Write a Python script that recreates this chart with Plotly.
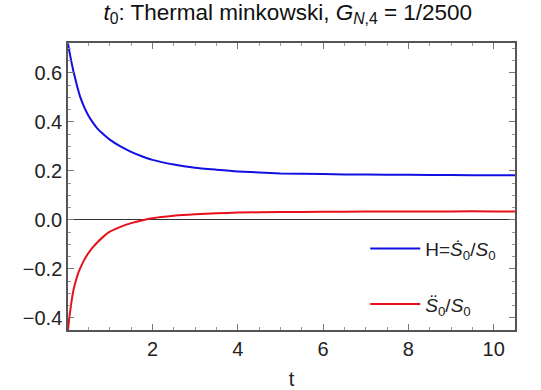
import plotly.graph_objects as go

# --- data ---
t_blue = [0.02, 0.05, 0.1, 0.15, 0.2, 0.25, 0.3, 0.4, 0.5, 0.6, 0.7, 0.85, 1.0, 1.25,
          1.5, 1.75, 2.0, 2.5, 3.0, 3.5, 4.0, 5.0, 6.0, 7.0, 8.0, 9.0, 10.0, 10.5]
H_vals = [0.72, 0.69, 0.645, 0.605, 0.57, 0.535, 0.505, 0.46, 0.425, 0.398, 0.375, 0.35,
          0.328, 0.30, 0.278, 0.26, 0.245, 0.226, 0.213, 0.205, 0.198, 0.190, 0.187,
          0.185, 0.184, 0.183, 0.182, 0.182]

t_red = [0.02, 0.05, 0.1, 0.15, 0.2, 0.25, 0.3, 0.4, 0.5, 0.6, 0.7, 0.85, 1.0, 1.25,
         1.5, 1.75, 2.0, 2.5, 3.0, 3.5, 4.0, 5.0, 6.0, 7.0, 8.0, 9.0, 10.0, 10.5]
Sdd_vals = [-0.45, -0.40, -0.335, -0.285, -0.25, -0.222, -0.20, -0.163, -0.135, -0.112,
            -0.093, -0.068, -0.048, -0.028, -0.013, -0.002, 0.007, 0.017, 0.023, 0.027,
            0.030, 0.032, 0.033, 0.034, 0.034, 0.035, 0.035, 0.035]

x_ticks = [2, 4, 6, 8, 10]
y_ticks = [-0.4, -0.2, 0.0, 0.2, 0.4, 0.6]
y_ticklabels = ["\u22120.4", "\u22120.2", "0.0", "0.2", "0.4", "0.6"]

name_H = "H=<i>\u1E60</i><sub>0</sub>/<i>S</i><sub>0</sub>"
name_S = "<i>S\u0308</i><sub>0</sub>/<i>S</i><sub>0</sub>"
title = "<i>t</i><sub>0</sub>: Thermal minkowski, <i>G</i><sub><i>N</i>,4</sub> = 1/2500"

FONT = "Liberation Sans, Arial, sans-serif"

fig = go.Figure()
fig.add_trace(go.Scatter(x=t_blue, y=H_vals, mode="lines", name=name_H,
                         line=dict(color="#1010e0", width=2, shape="spline", smoothing=0.5),
                         legendgroup="a"))
fig.add_trace(go.Scatter(x=t_red, y=Sdd_vals, mode="lines", name=name_S,
                         line=dict(color="#e8101a", width=2, shape="spline", smoothing=0.5),
                         legendgroup="b"))

axis_common = dict(
    showgrid=False, showline=True, linecolor="#555555", linewidth=1.5, mirror="ticks",
    ticks="inside", ticklen=6, tickcolor="#777777", tickwidth=1, automargin=False,
    tickfont=dict(family=FONT, size=20, color="#222222"),
)

fig.update_layout(
    width=541, height=390,
    margin=dict(l=68, r=26, t=43, b=60),
    paper_bgcolor="white", plot_bgcolor="white",
    font=dict(family=FONT, color="#222222"),
    title=dict(text=title, x=0.532, xanchor="center", y=0.99, yanchor="top",
               font=dict(family=FONT, size=22.5, color="#111111"), automargin=False),
    xaxis=dict(range=[0.02, 10.5], tickvals=x_ticks, zeroline=False,
               minor=dict(dtick=0.5, ticks="inside", ticklen=3, tickcolor="#999999"),
               title=dict(text="t", font=dict(family=FONT, size=20), standoff=14),
               **axis_common),
    yaxis=dict(range=[-0.449, 0.722], tickvals=y_ticks, ticktext=y_ticklabels,
               zeroline=True, zerolinecolor="#333333", zerolinewidth=1,
               minor=dict(dtick=0.05, ticks="inside", ticklen=3, tickcolor="#999999"),
               **axis_common),
    legend=dict(x=0.665, y=0.35, xanchor="left", yanchor="top",
                bgcolor="rgba(0,0,0,0)", tracegroupgap=28, itemwidth=50,
                font=dict(family=FONT, size=19, color="#222222")),
    showlegend=True,
)

fig.write_html("out.html")
